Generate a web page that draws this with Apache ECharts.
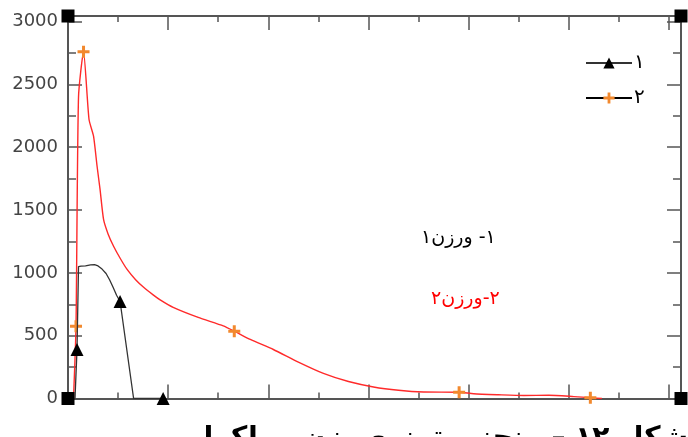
<!DOCTYPE html>
<html>
<head>
<meta charset="utf-8">
<script src="https://cdn.jsdelivr.net/npm/echarts@6/dist/echarts.min.js"></script>
<style>
  html, body { margin: 0; padding: 0; background: #fff; }
  #chart { width: 688px; height: 437px; }
</style>
</head>
<body>
<div id="chart"></div>
<script>
// series 1 (black, triangles)
var x1 = [100.4, 100.8, 101.1, 101.6, 102.5, 103.5, 104.3, 105, 105.8, 106.6, 107.3, 108, 108.7, 109.4, 112.1, 118];
var y1 = [0, 390, 1050, 1053, 1056, 1064, 1066, 1055, 1030, 995, 945, 885, 822, 772, 0, 0];
var marks1 = [1, 13, 15];

// series 2 (red line, orange plus)
var x2 = [100.1, 100.6, 101.1, 102.1, 103.2, 104.1, 104.8, 105.4, 106.1, 107, 108.1, 109.5, 110.8, 112.5, 114.1, 116, 117.4, 120, 125, 130, 132.2, 135.4, 140, 145, 150, 155, 160, 165, 170, 177.1, 180, 185, 190, 195, 200, 203.3, 205.6];
var y2 = [0, 575, 2400, 2760, 2220, 2088, 1850, 1664, 1425, 1310, 1212, 1110, 1027, 945, 885, 825, 785, 725, 645, 578, 536, 470, 390, 290, 200, 135, 92, 66, 52, 50, 38, 30, 24, 26, 15, 6, 0];
var marks2 = [1, 3, 20, 29, 35];

var legendNames = ['١', '٢'];
var note1 = '١- ورزن١';
var note2 = '٢-ورزن٢';
var caption = 'شکل ۱۲ – منحنی توزیع وزن مولکولی';

var xMin = 99, xMax = 221.4;
var yMin = 0, yMax = 3044;

var plusPath = 'path://M4.5,0h3v4.5h4.5v3h-4.5v4.5h-3v-4.5h-4.5v-3h4.5z';
var orange = '#f2892e';
var axisColor = '#555';

function buildData(xs, ys, marks) {
    var out = [];
    for (var i = 0; i < xs.length; i++) {
        var item = { value: [xs[i], ys[i]] };
        if (marks.indexOf(i) < 0) item.symbol = 'none';
        out.push(item);
    }
    return out;
}

function xAx(pos, interval, len, withLine, withLabel) {
    return {
        type: 'value', position: pos, min: xMin, max: xMax, interval: interval,
        axisLine: { show: withLine, onZero: false, lineStyle: { color: axisColor, width: 2 } },
        axisTick: { show: true, inside: true, length: len, lineStyle: { color: axisColor, width: 1.5 } },
        axisLabel: {
            show: withLabel, color: '#444', fontSize: 18, fontFamily: 'DejaVu Sans', margin: 12,
            formatter: function (v) { return v % 20 === 0 ? String(v) : ''; }
        },
        splitLine: { show: false }
    };
}

function yAx(pos, interval, len, withLine, withLabel) {
    return {
        type: 'value', position: pos, min: yMin, max: yMax, interval: interval,
        axisLine: { show: withLine, onZero: false, lineStyle: { color: axisColor, width: 2 } },
        axisTick: { show: true, inside: true, length: len, lineStyle: { color: axisColor, width: 1.5 } },
        axisLabel: {
            show: withLabel, color: '#444', fontSize: 18, fontFamily: 'DejaVu Sans', margin: 10,
            formatter: function (v) { return v % 500 === 0 ? String(v) : ''; }
        },
        splitLine: { show: false }
    };
}

var chart = echarts.init(document.getElementById('chart'));
var option = {
    animation: false,
    grid: { left: 68, right: 7, top: 16, bottom: 38.5 },
    xAxis: [
        xAx('bottom', 20, 14, true, true),
        xAx('bottom', 10, 6, false, false),
        xAx('top', 20, 14, true, false),
        xAx('top', 10, 6, false, false)
    ],
    yAxis: [
        yAx('left', 500, 14, true, true),
        yAx('left', 250, 8, false, false),
        yAx('right', 500, 14, true, false),
        yAx('right', 250, 8, false, false)
    ],
    legend: {
        orient: 'vertical', left: 580, top: 48,
        itemWidth: 46, itemHeight: 14, itemGap: 15,
        textStyle: { fontSize: 20, lineHeight: 20, color: '#000', fontFamily: 'DejaVu Sans', padding: [0, 0, 0, -3] },
        data: [
            { name: legendNames[0] },
            { name: legendNames[1], itemStyle: { color: orange }, lineStyle: { color: '#000' } }
        ]
    },
    graphic: [
        { type: 'text', left: 421, top: 229, style: { text: note1, fill: '#000', fontSize: 19, fontFamily: 'DejaVu Sans' } },
        { type: 'text', left: 431, top: 290, style: { text: note2, fill: '#f00', fontSize: 19, fontFamily: 'DejaVu Sans' } },
        { type: 'text', right: 0, top: 425, style: { text: caption, fill: '#000', fontSize: 28, fontWeight: 'bold', fontFamily: 'DejaVu Sans' } }
    ],
    series: [
        {
            name: legendNames[0], type: 'line', xAxisIndex: 0, yAxisIndex: 0,
            data: buildData(x1, y1, marks1),
            symbol: 'triangle', symbolSize: 13, showSymbol: true,
            lineStyle: { color: '#333', width: 1.3 },
            itemStyle: { color: '#000' },
            z: 3
        },
        {
            name: legendNames[1], type: 'line', xAxisIndex: 0, yAxisIndex: 0,
            data: buildData(x2, y2, marks2),
            symbol: plusPath, symbolSize: 12, showSymbol: true,
            smooth: 0.2,
            lineStyle: { color: '#ff2a2a', width: 1.4 },
            itemStyle: { color: orange },
            z: 2
        },
        {
            type: 'scatter', xAxisIndex: 0, yAxisIndex: 0, symbol: 'rect', symbolSize: 13,
            clip: false, itemStyle: { color: '#000', opacity: 1 }, z: 5, silent: true,
            data: [[xMin, yMin], [xMin, yMax], [xMax, yMin], [xMax, yMax]]
        }
    ]
};
option && chart.setOption(option);
</script>
</body>
</html>
